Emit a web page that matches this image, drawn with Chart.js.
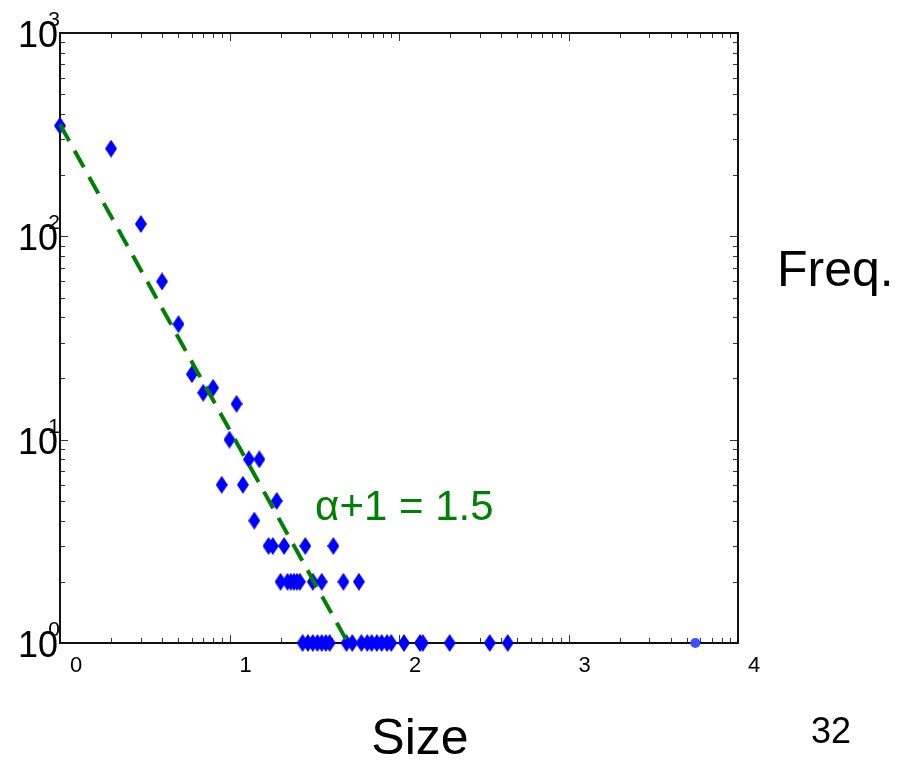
<!DOCTYPE html>
<html>
<head>
<meta charset="utf-8">
<script src="https://cdn.jsdelivr.net/npm/chart.js@4.4.0/dist/chart.umd.min.js"></script>
<style>
  body { margin: 0; background: #fff; }
  #wrap { width: 918px; height: 760px; position: relative; }
</style>
</head>
<body>
<div id="wrap"><canvas id="myChart"></canvas></div>
<script>
// size / frequency pairs
const sizeVals = [1, 2, 3, 4, 5, 6, 7, 8, 11, 10, 13, 15, 9, 12, 19, 14,
  17, 18, 21, 28, 41,
  20, 22, 23, 24, 25, 26, 31, 35, 47, 58,
  27, 29, 31, 33, 35, 37, 39, 49, 53, 60, 65, 69, 74, 79, 85, 90, 107, 133, 138, 199, 343, 438];
const freqVals = [350, 270, 115, 60, 37, 21, 17, 18, 15, 10, 8, 8, 6, 6, 5, 4,
  3, 3, 3, 3, 3,
  2, 2, 2, 2, 2, 2, 2, 2, 2, 2,
  1, 1, 1, 1, 1, 1, 1, 1, 1, 1, 1, 1, 1, 1, 1, 1, 1, 1, 1, 1, 1, 1];
const outlierSize = [5600];
const outlierFreq = [1];

// fitted power law, slope -1.5
const fitSize = [1, 50];
const fitFreq = [355, 1];

const xTickLabels = ["0", "1", "2", "3", "4"];
const yTickLabels = ["0", "1", "2", "3"];

const toPoints = (xs, ys) => xs.map((x, i) => ({ x: x, y: ys[i] }));

// tall diamond marker
const diamond = document.createElement("canvas");
diamond.width = 12;
diamond.height = 18;
const dctx = diamond.getContext("2d");
dctx.fillStyle = "#0000ff";
dctx.beginPath();
dctx.moveTo(6, 0);
dctx.lineTo(12, 9);
dctx.lineTo(6, 18);
dctx.lineTo(0, 9);
dctx.closePath();
dctx.fill();

const FONT = "'Liberation Sans', Arial, sans-serif";

const framePlugin = {
  id: "frame",
  beforeDatasetsDraw(chart) {
    const ctx = chart.ctx;
    const a = chart.chartArea;
    const xs = chart.scales.x;
    const ys = chart.scales.y;
    ctx.save();

    // ticks, inward on all four sides
    ctx.strokeStyle = "#333";
    ctx.lineWidth = 1;
    ctx.beginPath();
    for (let k = 0; k <= 4; k++) {
      for (let m = 1; m <= 9; m++) {
        const v = m * Math.pow(10, k);
        if (v > 10000) break;
        const px = Math.round(xs.getPixelForValue(v)) + 0.5;
        const len = m === 1 ? 8 : 5;
        ctx.moveTo(px, a.bottom); ctx.lineTo(px, a.bottom - len);
        ctx.moveTo(px, a.top); ctx.lineTo(px, a.top + len);
      }
    }
    for (let k = 0; k <= 3; k++) {
      for (let m = 1; m <= 9; m++) {
        const v = m * Math.pow(10, k);
        if (v > 1000) break;
        const py = Math.round(ys.getPixelForValue(v)) + 0.5;
        const len = m === 1 ? 8 : 5;
        ctx.moveTo(a.left, py); ctx.lineTo(a.left + len, py);
        ctx.moveTo(a.right, py); ctx.lineTo(a.right - len, py);
      }
    }
    ctx.stroke();

    // frame
    ctx.strokeStyle = "#111";
    ctx.lineWidth = 2;
    ctx.strokeRect(a.left, a.top, a.right - a.left, a.bottom - a.top);

    // y tick labels: 10 with exponent
    ctx.fillStyle = "#000";
    yTickLabels.forEach((lab, i) => {
      const py = ys.getPixelForValue(Math.pow(10, i));
      ctx.font = "36px " + FONT;
      ctx.textAlign = "right";
      ctx.textBaseline = "alphabetic";
      ctx.fillText("10", a.left - 2, py + 14);
      ctx.font = "21px " + FONT;
      ctx.textAlign = "center";
      ctx.fillText(lab, a.left - 6, py - 7);
    });

    // x tick labels: exponents only
    ctx.font = "22px " + FONT;
    ctx.textAlign = "center";
    xTickLabels.forEach((lab, i) => {
      const px = xs.getPixelForValue(Math.pow(10, i));
      ctx.fillText(lab, px + 16, a.bottom + 29);
    });

    // fit annotation
    ctx.fillStyle = "#008000";
    ctx.font = "42px " + FONT;
    ctx.textAlign = "left";
    ctx.fillText("\u03b1+1 = 1.5", xs.getPixelForValue(32), ys.getPixelForValue(4.03));

    // axis titles and page number
    ctx.fillStyle = "#000";
    ctx.font = "50px " + FONT;
    ctx.textAlign = "left";
    ctx.textBaseline = "middle";
    ctx.fillText("Freq.", 777, 272);
    ctx.textAlign = "center";
    ctx.fillText("Size", 420, 740);
    ctx.font = "36px " + FONT;
    ctx.fillText("32", 831, 733);
    ctx.restore();
  }
};

new Chart(document.getElementById("myChart"), {
  type: "scatter",
  data: {
    datasets: [
      {
        label: "data",
        data: toPoints(sizeVals, freqVals),
        pointStyle: diamond,
        clip: false,
        order: 2
      },
      {
        label: "outlier",
        data: toPoints(outlierSize, outlierFreq),
        pointStyle: "circle",
        pointRadius: 5,
        backgroundColor: "#3d4dff",
        borderColor: "#3d4dff",
        borderWidth: 0,
        clip: false,
        order: 2
      },
      {
        label: "fit",
        data: toPoints(fitSize, fitFreq),
        showLine: true,
        pointRadius: 0,
        borderColor: "#008000",
        borderWidth: 4,
        borderDash: [19, 11],
        clip: false,
        order: 1
      }
    ]
  },
  options: {
    responsive: true,
    maintainAspectRatio: false,
    animation: false,
    layout: { padding: { left: 60, top: 33, right: 180, bottom: 117 } },
    plugins: { legend: { display: false }, tooltip: { enabled: false } },
    scales: {
      x: {
        type: "logarithmic",
        min: 1,
        max: 10000,
        ticks: { display: false },
        grid: { display: false },
        border: { display: false },
        afterFit: (s) => { s.height = 0; }
      },
      y: {
        type: "logarithmic",
        min: 1,
        max: 1000,
        ticks: { display: false },
        grid: { display: false },
        border: { display: false },
        afterFit: (s) => { s.width = 0; }
      }
    }
  },
  plugins: [framePlugin]
});
</script>
</body>
</html>
